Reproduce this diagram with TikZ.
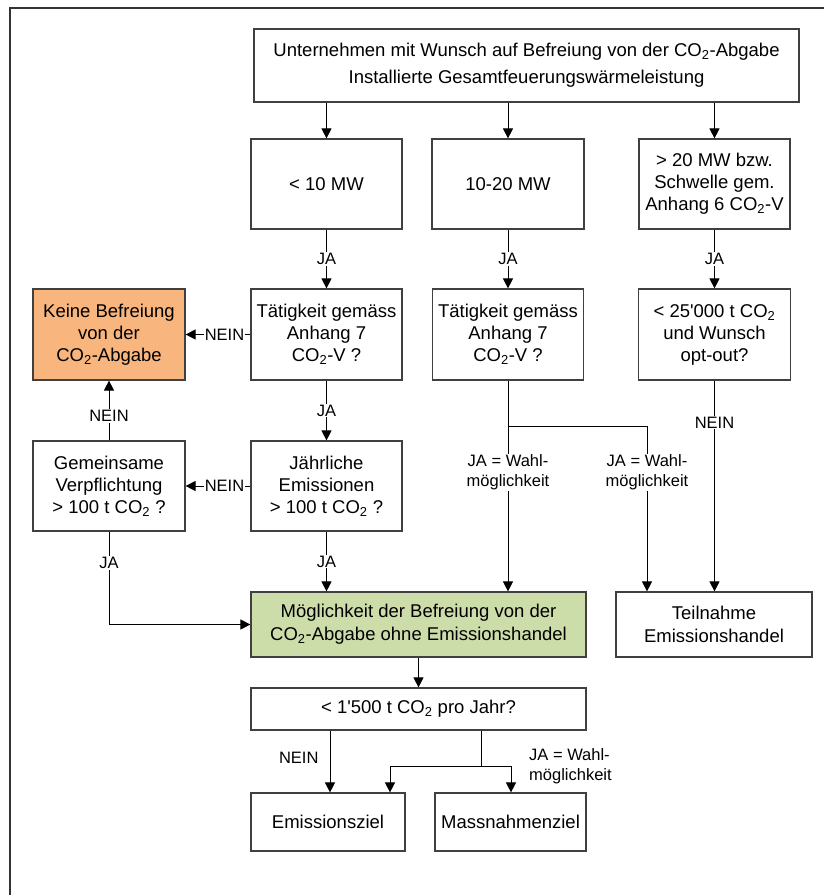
\documentclass[tikz,border=0pt]{standalone}
\usepackage{fontspec}
\setmainfont{Liberation Sans}
\usetikzlibrary{arrows.meta}
\definecolor{orangefill}{RGB}{249,181,126}
\definecolor{greenfill}{RGB}{205,221,170}
\definecolor{boxline}{RGB}{64,64,64}
\newcommand{\cotwo}{CO\textsubscript{2}}
\newcommand{\sq}{\textquotesingle}
\begin{document}
\begin{tikzpicture}[x=1pt,y=-1pt,
  box/.style={draw=boxline,line width=1.2pt,fill=white,align=center,inner sep=0pt,font=\fontsize{18.5}{22}\selectfont},
  lbl/.style={fill=white,inner sep=1pt,align=center,font=\fontsize{16.5}{20}\selectfont},
  conn/.style={line width=1pt,black},
  arr/.style={conn,-{Triangle[length=10pt,width=10pt]}},
]
\useasboundingbox[fill=white] (0,0) rectangle (824,895);
% outer frame (left and top edges visible)
\draw[line width=2.5pt,black!80] (10,895) -- (10,8) -- (824,8);

% boxes
\node[box,minimum width=545pt,minimum height=73pt,font=\fontsize{18.5}{27}\selectfont] (top) at (526.5,65.5)
  {Unternehmen mit Wunsch auf Befreiung von der \cotwo-Abgabe\\Installierte Gesamtfeuerungswärmeleistung};
\node[box,minimum width=151pt,minimum height=90pt] (r2a) at (326.5,184) {< 10 MW};
\node[box,minimum width=152pt,minimum height=90pt] (r2b) at (508,184) {10-20 MW};
\node[box,minimum width=151pt,minimum height=90pt] (r2c) at (714.5,184) {> 20 MW bzw.\\Schwelle gem.\\Anhang 6 \cotwo-V};
\node[box,minimum width=151pt,minimum height=91pt] (r3a) at (326.5,334.5) {Tätigkeit gemäss\\Anhang 7\\\cotwo-V ?};
\node[box,minimum width=151pt,minimum height=91pt] (r3b) at (508,334.5) {Tätigkeit gemäss\\Anhang 7\\\cotwo-V ?};
\node[box,minimum width=152pt,minimum height=91pt] (r3c) at (714.5,334.5) {< 25\sq000 t \cotwo\\und Wunsch\\opt-out?};
\node[box,fill=orangefill,minimum width=152pt,minimum height=91pt] (orange) at (109,334.5) {Keine Befreiung\\von der\\\cotwo-Abgabe};
\node[box,minimum width=152pt,minimum height=90pt] (gem) at (109,486) {Gemeinsame\\Verpflichtung\\> 100 t \cotwo{} ?};
\node[box,minimum width=151pt,minimum height=90pt] (jahr) at (326.5,486) {Jährliche\\Emissionen\\> 100 t \cotwo{} ?};
\node[box,fill=greenfill,minimum width=335pt,minimum height=65pt,font=\fontsize{18.5}{23}\selectfont] (green) at (418.5,624.5)
  {Möglichkeit der Befreiung von der\\\cotwo-Abgabe ohne Emissionshandel};
\node[box,minimum width=196pt,minimum height=65pt,font=\fontsize{18.5}{23}\selectfont] (teil) at (714,624.5) {Teilnahme\\Emissionshandel};
\node[box,minimum width=335pt,minimum height=42pt] (co1500) at (418.5,709) {< 1\sq500 t \cotwo{} pro Jahr?};
\node[box,minimum width=154pt,minimum height=58pt] (emi) at (328,822) {Emissionsziel};
\node[box,minimum width=151pt,minimum height=58pt] (mass) at (510.5,822) {Massnahmenziel};

% connectors from top
\draw[arr] (top.south -| r2a) -- (r2a.north);
\draw[arr] (top.south -| r2b) -- (r2b.north);
\draw[arr] (top.south -| r2c) -- (r2c.north);

\draw[arr] (r2a) -- node[lbl]{JA} (r3a);
\draw[arr] (r2b) -- node[lbl]{JA} (r3b);
\draw[arr] (r2c) -- node[lbl]{JA} (r3c);

\draw[arr] (r3a) -- node[lbl]{JA} (jahr);
\draw[arr] (r3a) -- node[lbl,pos=0.4]{NEIN} (orange);
\draw[arr] (jahr) -- node[lbl,pos=0.4]{NEIN} (gem);
\draw[arr] (gem) -- node[lbl,pos=0.41]{NEIN} (orange);
\draw[arr] (gem.south) |- node[lbl,pos=0.17]{JA} (green.west);
\draw[arr] (jahr.south) -- node[lbl]{JA} (jahr.south |- green.north);

% middle column split
\coordinate (j1) at (508,426);
\coordinate (j2) at (647,426);
\draw[conn] (r3b.south) -- (j1) -- (j2);
\draw[arr] (j1) -- node[lbl,pos=0.28]{JA = Wahl-\\möglichkeit} (j1 |- green.north);
\draw[arr] (j2) -- node[lbl,pos=0.28]{JA = Wahl-\\möglichkeit} (j2 |- teil.north);
\draw[arr] (r3c.south) -- node[lbl,pos=0.2]{NEIN} (r3c.south |- teil.north);

% bottom part
\draw[arr] (green) -- (co1500);
\coordinate (e1) at (330,0);
\draw[arr] (co1500.south -| e1) -- node[lbl,left=10pt,pos=0.44]{NEIN} (emi.north -| e1);
\coordinate (s) at (481,766);
\coordinate (sl) at (390,766);
\coordinate (sr) at (511,766);
\draw[conn] (co1500.south -| s) -- (s);
\draw[arr] (s) -- (sl) -- (sl |- emi.north);
\draw[arr] (s) -- (sr) -- (sr |- mass.north);
\node[lbl,anchor=west,align=left] (jalbl) at (528,766) {JA = Wahl-\\möglichkeit};
\end{tikzpicture}
\end{document}
